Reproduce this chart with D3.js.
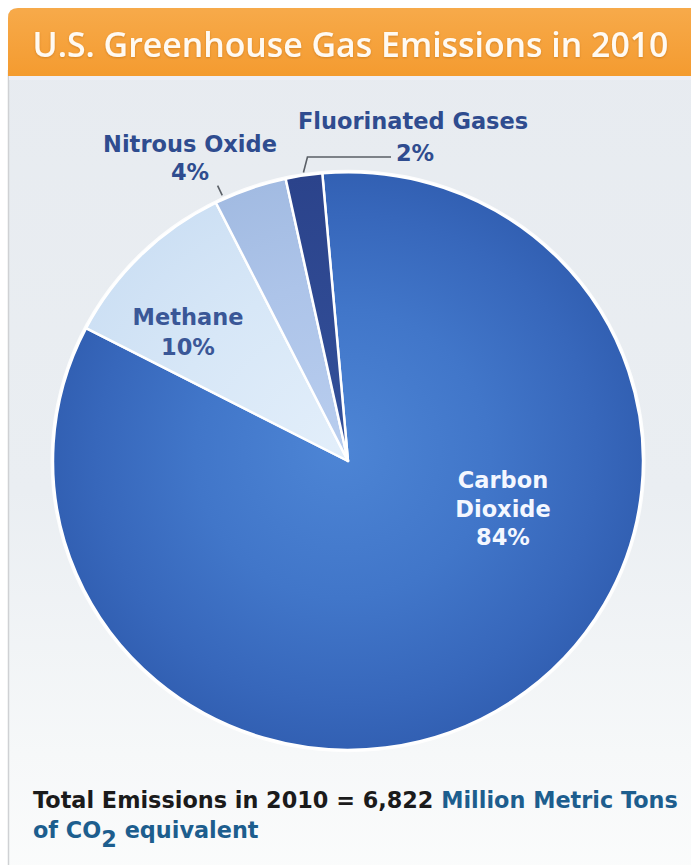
<!DOCTYPE html>
<html>
<head>
<meta charset="utf-8">
<script src="https://cdn.jsdelivr.net/npm/d3@7"></script>
<style>
  html, body { margin: 0; padding: 0; background: #ffffff; }
  svg { display: block; }
</style>
</head>
<body>
<svg id="chart" width="691" height="865"></svg>
<script>
// Emission shares by gas, percent of the national total
const categories = ["Carbon Dioxide", "Methane", "Nitrous Oxide", "Fluorinated Gases"];
const shares = [84, 10, 4, 2];
const labelLines = [["Carbon", "Dioxide"], ["Methane"], ["Nitrous Oxide"], ["Fluorinated Gases"]];
const titleText = "U.S. Greenhouse Gas Emissions in 2010";
const totalYear = 2010;
const totalValue = 6822;
const unitText = "Million Metric Tons";

const W = 691, H = 865;
const svg = d3.select("#chart");
const defs = svg.append("defs");

// ---------- gradients ----------
const hdr = defs.append("linearGradient").attr("id", "hdrGrad")
  .attr("x1", 0).attr("y1", 0).attr("x2", 0).attr("y2", 1);
hdr.append("stop").attr("offset", 0).attr("stop-color", "#f7aa4a");
hdr.append("stop").attr("offset", 1).attr("stop-color", "#f49b30");

const body = defs.append("linearGradient").attr("id", "bodyGrad")
  .attr("x1", 0).attr("y1", 0).attr("x2", 0).attr("y2", 1);
body.append("stop").attr("offset", 0).attr("stop-color", "#e7ebf0");
body.append("stop").attr("offset", 0.55).attr("stop-color", "#eaeef2");
body.append("stop").attr("offset", 0.85).attr("stop-color", "#f6f8f9");
body.append("stop").attr("offset", 1).attr("stop-color", "#fbfcfc");

const R = 295;
function radial(id, stops) {
  const g = defs.append("radialGradient").attr("id", id)
    .attr("gradientUnits", "userSpaceOnUse")
    .attr("cx", 0).attr("cy", 0).attr("r", R)
    .attr("fx", -10).attr("fy", -15);
  stops.forEach(s => g.append("stop").attr("offset", s[0]).attr("stop-color", s[1]));
}
radial("gCO2", [[0, "#4d85d5"], [0.5, "#4176c9"], [0.85, "#3767bb"], [1, "#3260b3"]]);
radial("gCH4", [[0, "#e2eefa"], [0.6, "#d7e7f7"], [1, "#cde0f4"]]);
radial("gN2O", [[0, "#b8cdee"], [0.6, "#adc4e9"], [1, "#a2bbe2"]]);
radial("gFG",  [[0, "#33509a"], [1, "#2b438b"]]);
const fills = ["url(#gCO2)", "url(#gCH4)", "url(#gN2O)", "url(#gFG)"];

const shadow = defs.append("filter").attr("id", "txtShadow")
  .attr("x", "-5%").attr("y", "-20%").attr("width", "110%").attr("height", "140%");
shadow.append("feDropShadow").attr("dx", 0).attr("dy", 1).attr("stdDeviation", 0.8)
  .attr("flood-color", "#a05a10").attr("flood-opacity", 0.4);

// ---------- panel ----------
const px = 8, py = 8, rad = 10;
svg.append("path")
  .attr("d", `M${px},${H + 20} L${px},${py + rad} Q${px},${py} ${px + rad},${py} L${W + 20},${py} L${W + 20},${H + 20} Z`)
  .attr("fill", "url(#bodyGrad)");
svg.append("line")
  .attr("x1", px + 0.5).attr("x2", px + 0.5).attr("y1", 70).attr("y2", H)
  .attr("stroke", "#cfd1d4").attr("stroke-width", 1.5);
svg.append("path")
  .attr("d", `M${px},76 L${px},${py + rad} Q${px},${py} ${px + rad},${py} L${W + 20},${py} L${W + 20},76 Z`)
  .attr("fill", "url(#hdrGrad)");
svg.append("rect").attr("x", px + 1).attr("y", 76).attr("width", W).attr("height", 4)
  .attr("fill", "#eeeef5");

function fitWidth(textSel, target) {
  const w = textSel.node().getComputedTextLength();
  const fs = parseFloat(textSel.attr("font-size"));
  textSel.attr("font-size", fs * target / w);
}

const title = svg.append("text")
  .attr("x", 350.5).attr("y", 57)
  .attr("text-anchor", "middle")
  .attr("font-family", "'Open Sans', sans-serif")
  .attr("font-weight", 600)
  .attr("font-size", 28)
  .attr("fill", "#fffaf2")
  .attr("filter", "url(#txtShadow)")
  .text(titleText);
fitWidth(title, 636);

// ---------- pie ----------
const cx = 348, cy = 461, sy = 0.979;
const startDeg = -5;
const pie = d3.pie().sort(null)
  .startAngle(startDeg * Math.PI / 180)
  .endAngle((startDeg + 360) * Math.PI / 180);
const arcs = pie(shares);
const arc = d3.arc().innerRadius(0).outerRadius(R);

const pieG = svg.append("g").attr("transform", `translate(${cx},${cy}) scale(1,${sy})`);
pieG.append("circle").attr("r", R + 2.5).attr("fill", "#ffffff").attr("opacity", 0.85);
pieG.selectAll("path.slice")
  .data(arcs)
  .join("path")
  .attr("class", "slice")
  .attr("d", arc)
  .attr("fill", (d, i) => fills[i])
  .attr("stroke", "#ffffff")
  .attr("stroke-width", 2.5)
  .attr("stroke-linejoin", "round");

// polar point on the (slightly flattened) pie
function polar(a, r) {
  return [cx + r * Math.sin(a), cy - r * Math.cos(a) * sy];
}

// ---------- leader lines ----------
const leader = svg.append("g").attr("fill", "none").attr("stroke", "#5a5f66").attr("stroke-width", 1.6);
{
  const d = arcs[2];
  const a = d.startAngle + 0.12 * (d.endAngle - d.startAngle);
  const p0 = polar(a, R + 4), p1 = polar(a, R + 15);
  leader.append("path").attr("d", d3.line()([p0, p1]));
}
{
  const d = arcs[3];
  const a = (d.startAngle + d.endAngle) / 2;
  const p0 = polar(a, R + 3);
  leader.append("path").attr("d", d3.line()([p0, [p0[0] + 4, 157], [391, 157]]));
}

// ---------- labels ----------
const labelFont = "'DejaVu Sans', Verdana, sans-serif";
const lblColor = "#2f4c8f";
const labelSpec = [
  { x: 503, y: 488, dy: 28.5, color: "#f4f7ff" },
  { x: 188, y: 325, dy: 30, color: "#3a5797" },
  { x: 190, y: 152, dy: 28, color: lblColor },
  { x: 413, y: 129, dy: 32, color: lblColor, pctDx: 2 }
];
const labels = svg.append("g")
  .attr("font-family", labelFont)
  .attr("font-weight", "bold")
  .attr("font-size", 22.5)
  .attr("text-anchor", "middle");
arcs.forEach((d, i) => {
  const s = labelSpec[i];
  const t = labels.append("text").attr("fill", s.color);
  const lines = labelLines[i].concat([`${shares[i]}%`]);
  lines.forEach((ln, k) => {
    t.append("tspan")
      .attr("x", s.x + (k === lines.length - 1 && s.pctDx ? s.pctDx : 0))
      .attr("y", s.y + k * s.dy)
      .text(ln);
  });
});

// ---------- footnote ----------
const foot = svg.append("g")
  .attr("font-family", labelFont)
  .attr("font-weight", "bold");
const l1 = foot.append("text").attr("x", 33).attr("y", 808).attr("font-size", 18.5);
l1.append("tspan").attr("fill", "#1b1b1b")
  .text(`Total Emissions in ${totalYear} = ${d3.format(",")(totalValue)} `);
l1.append("tspan").attr("fill", "#1d5e8e").text(unitText);
fitWidth(l1, 645);
const fs = l1.attr("font-size");
const l2 = foot.append("text").attr("x", 33).attr("y", 838).attr("fill", "#1d5e8e").attr("font-size", fs);
l2.append("tspan").text("of CO");
l2.append("tspan").attr("dy", 9).text("2");
l2.append("tspan").attr("dy", -9).text(" equivalent");
</script>
</body>
</html>
